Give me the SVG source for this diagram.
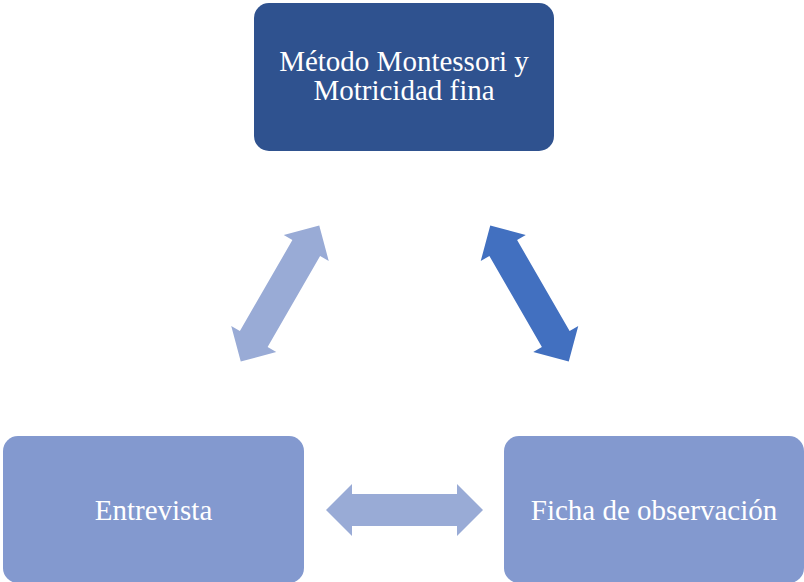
<svg xmlns="http://www.w3.org/2000/svg" xmlns:xlink="http://www.w3.org/1999/xlink" width="804" height="582" viewBox="0 0 804 582">
<style>
.lbl{font-family:"Liberation Serif","Times New Roman",serif;font-size:29px;fill:#ffffff;text-anchor:middle}
.box-dark{fill:#2F528F}
.box-light{fill:#8399CF}
.arr-light{fill:#99ABD6}
.arr-dark{fill:#4270C0}
</style>
<defs>
<path id="dbl" d="M-78.5,0 L-52.5,-26 L-52.5,-16 L52.5,-16 L52.5,-26 L78.5,0 L52.5,26 L52.5,16 L-52.5,16 L-52.5,26 Z"/>
</defs>
<rect width="804" height="582" fill="#ffffff"/>
<g id="connectors">
<use xlink:href="#dbl" class="arr-light" transform="translate(280,293.5) rotate(-60)"/>
<use xlink:href="#dbl" class="arr-dark" transform="translate(529.5,293.5) rotate(60)"/>
<use xlink:href="#dbl" class="arr-light" transform="translate(404.5,510)"/>
</g>
<g id="node-metodo">
<rect x="254" y="3" width="300" height="148" rx="15" class="box-dark"/>
<text class="lbl" x="404" y="71">Método Montessori y</text>
<text class="lbl" x="404" y="100">Motricidad fina</text>
</g>
<g id="node-entrevista">
<rect x="3" y="436" width="301" height="147" rx="15" class="box-light"/>
<text class="lbl" x="153.5" y="520">Entrevista</text>
</g>
<g id="node-ficha">
<rect x="504" y="436" width="300" height="147" rx="15" class="box-light"/>
<text class="lbl" x="654" y="520">Ficha de observación</text>
</g>
</svg>
